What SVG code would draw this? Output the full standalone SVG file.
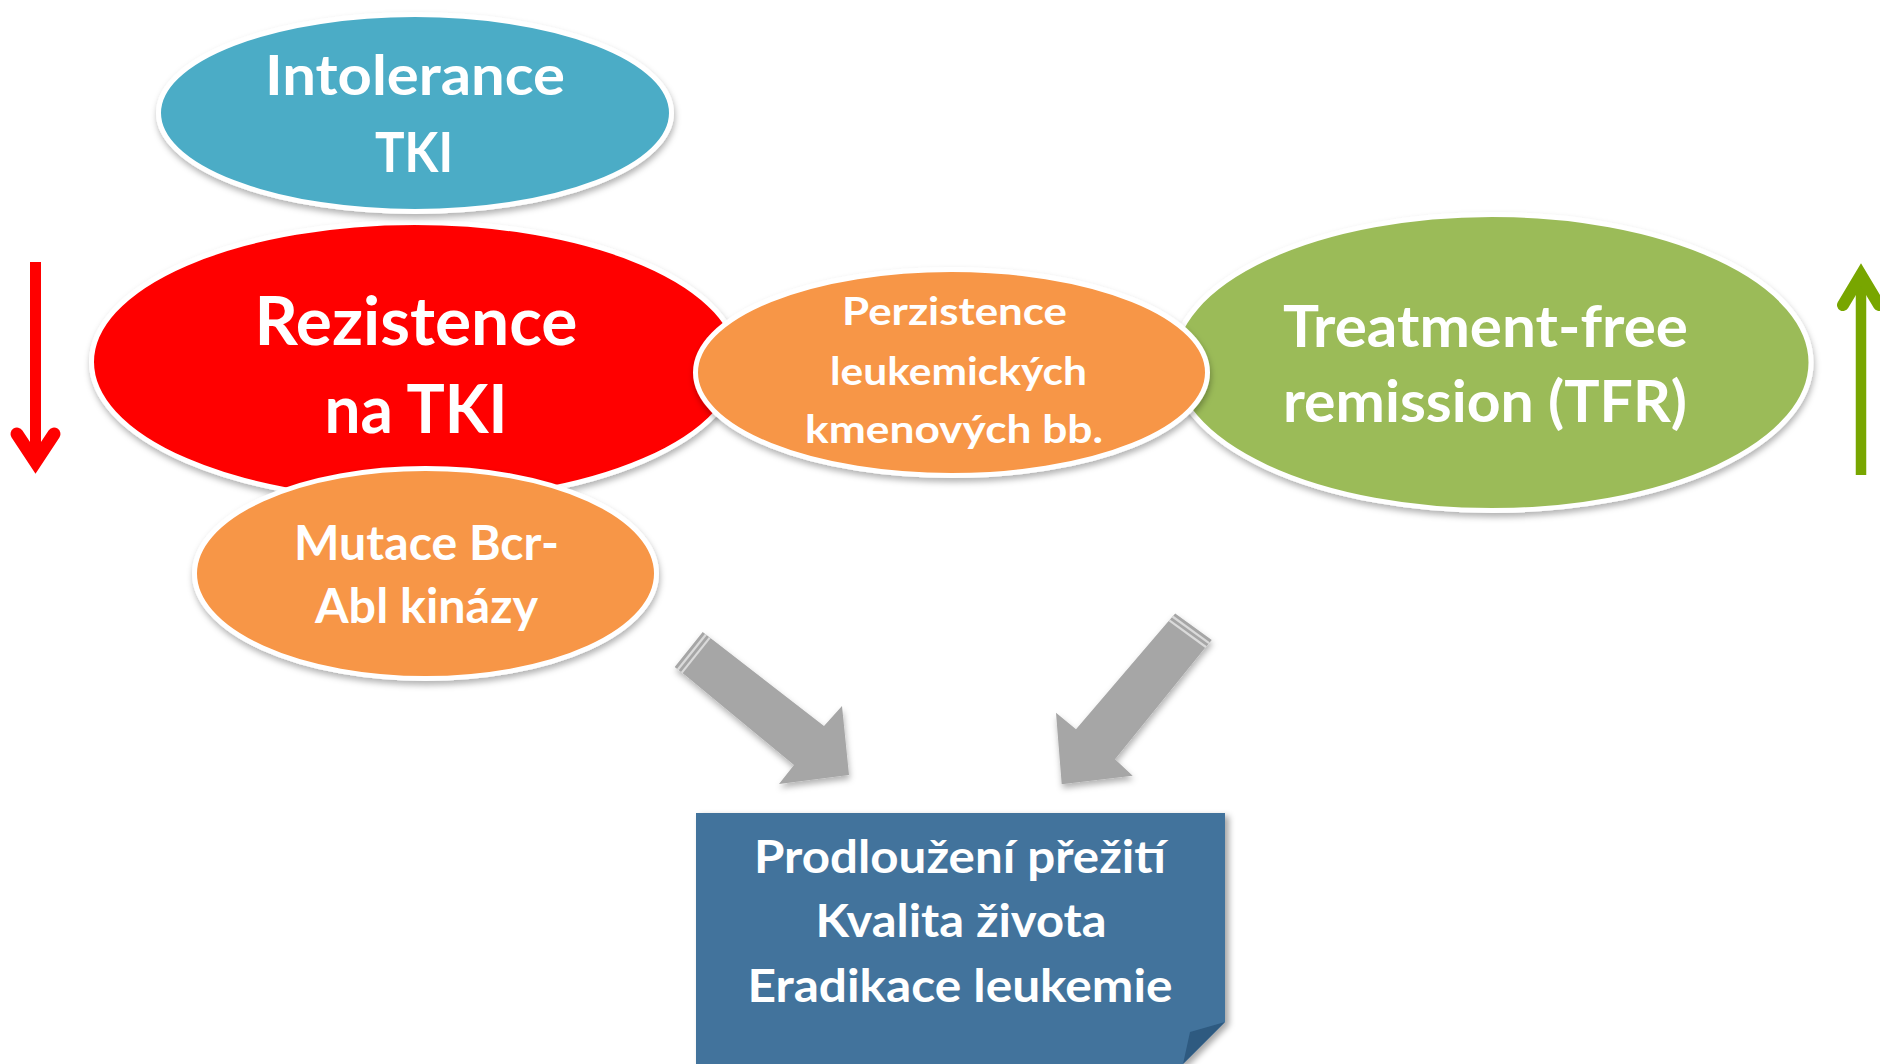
<svg xmlns="http://www.w3.org/2000/svg" width="1880" height="1064" viewBox="0 0 1880 1064">
<defs>
<style>
.lbl{font-family:Lato,"Open Sans","Liberation Sans",sans-serif;font-weight:bold;fill:#fff;text-anchor:middle}
.ell{stroke:#fff;stroke-width:5}
.garrow{fill:#A6A6A6}
.stripe{stroke:#DADADA;stroke-width:2.2}
</style>
<filter id="sh" x="-10%" y="-10%" width="125%" height="130%">
<feDropShadow dx="1" dy="4" stdDeviation="3" flood-color="#000" flood-opacity="0.3"/>
</filter>
<filter id="shb" x="-10%" y="-10%" width="125%" height="130%">
<feDropShadow dx="4" dy="3" stdDeviation="3" flood-color="#000" flood-opacity="0.35"/>
</filter>
</defs>
<rect width="1880" height="1064" fill="#fff"/>

<g id="node-rezistence">
<ellipse class="ell" cx="415" cy="362" rx="323.5" ry="139.5" fill="#FF0000" filter="url(#sh)"/>
<text class="lbl" x="416" y="345" font-size="67" textLength="323" lengthAdjust="spacingAndGlyphs">Rezistence</text>
<text class="lbl" x="416" y="433" font-size="67" textLength="183" lengthAdjust="spacingAndGlyphs">na TKI</text>
</g>

<g id="node-tfr">
<ellipse class="ell" cx="1492" cy="362.5" rx="319" ry="148" fill="#9BBB59" filter="url(#sh)"/>
<text class="lbl" x="1485.5" y="347" font-size="57" textLength="405" lengthAdjust="spacingAndGlyphs">Treatment-free</text>
<text class="lbl" x="1485" y="422" font-size="57" textLength="404" lengthAdjust="spacingAndGlyphs">remission (TFR)</text>
</g>

<g id="node-intolerance">
<ellipse class="ell" cx="415" cy="113" rx="256.5" ry="98.5" fill="#4BACC6" filter="url(#sh)"/>
<text class="lbl" x="415" y="95" font-size="56" textLength="300" lengthAdjust="spacingAndGlyphs">Intolerance</text>
<text class="lbl" x="414" y="172" font-size="56" textLength="78" lengthAdjust="spacingAndGlyphs">TKI</text>
</g>

<g id="node-perzistence">
<ellipse class="ell" cx="951.5" cy="372.5" rx="256" ry="103" fill="#F79646" filter="url(#sh)"/>
<text class="lbl" x="954.5" y="325" font-size="39" textLength="225" lengthAdjust="spacingAndGlyphs">Perzistence</text>
<text class="lbl" x="958.5" y="385" font-size="39" textLength="257" lengthAdjust="spacingAndGlyphs">leukemických</text>
<text class="lbl" x="954" y="443" font-size="39" textLength="298" lengthAdjust="spacingAndGlyphs">kmenových bb.</text>
</g>

<g id="node-mutace">
<ellipse class="ell" cx="425.5" cy="573.5" rx="231" ry="105" fill="#F79646" filter="url(#sh)"/>
<text class="lbl" x="426.5" y="560" font-size="47" textLength="265" lengthAdjust="spacingAndGlyphs">Mutace Bcr-</text>
<text class="lbl" x="426.5" y="623" font-size="47" textLength="223" lengthAdjust="spacingAndGlyphs">Abl kinázy</text>
</g>

<g id="node-outcome">
<polygon points="696,813 1225,813 1225,1022 1183,1064 696,1064" fill="#42739C" filter="url(#shb)"/>
<polygon points="1225,1022 1190,1032 1183,1064" fill="#2E5A80"/>
<text class="lbl" x="960" y="873" font-size="45" textLength="412" lengthAdjust="spacingAndGlyphs">Prodloužení přežití</text>
<text class="lbl" x="961" y="937" font-size="45" textLength="291" lengthAdjust="spacingAndGlyphs">Kvalita života</text>
<text class="lbl" x="960" y="1002" font-size="45" textLength="425" lengthAdjust="spacingAndGlyphs">Eradikace leukemie</text>
</g>

<g id="connectors">
<g id="arrow-left" filter="url(#sh)">
<polygon class="garrow" points="674.7,667 702.7,632 713,640 824,726 842,706 849,775 779,784 794,765 685,675"/>
<line class="stripe" x1="681.8" y1="672.6" x2="709.8" y2="637.6"/>
<line class="stripe" x1="677.9" y1="669.5" x2="705.9" y2="634.5"/>
</g>
<g id="arrow-right" filter="url(#sh)">
<polygon class="garrow" points="1175.2,613.4 1211.8,640.1 1203.3,650 1115,759.3 1132.7,775.7 1061.7,784.3 1056,712.7 1076,729.3 1166.7,623.3"/>
<line class="stripe" x1="1169.3" y1="620.3" x2="1205.9" y2="647"/>
<line class="stripe" x1="1172.5" y1="616.5" x2="1209.1" y2="643.2"/>
</g>
</g>

<g id="indicator-down">
<line x1="35.5" y1="262" x2="35.5" y2="462" stroke="#FF0000" stroke-width="11"/>
<polyline points="17,434 35.5,462 54,434" fill="none" stroke="#FF0000" stroke-width="13" stroke-linecap="round" stroke-linejoin="miter"/>
</g>
<g id="indicator-up">
<line x1="1861" y1="475" x2="1861" y2="276" stroke="#78A600" stroke-width="10.5"/>
<polyline points="1843,305 1861,275 1879,305" fill="none" stroke="#78A600" stroke-width="12" stroke-linecap="round" stroke-linejoin="miter"/>
</g>
</svg>
